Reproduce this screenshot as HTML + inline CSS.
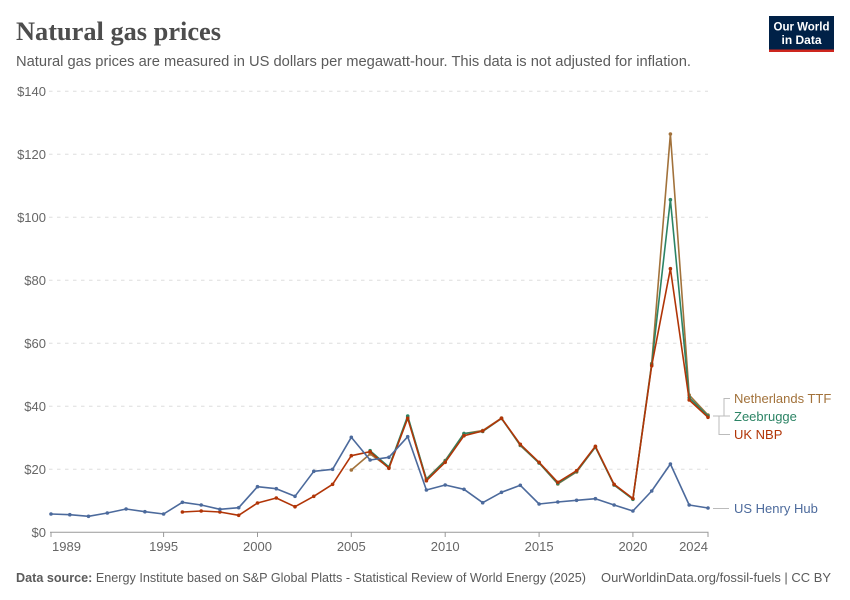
<!DOCTYPE html>
<html><head><meta charset="utf-8"><style>
html,body{margin:0;padding:0;background:#fff;}
svg{display:block;font-family:"Liberation Sans",sans-serif;}
</style></head><body>
<svg width="850" height="600" viewBox="0 0 850 600" xmlns="http://www.w3.org/2000/svg">
<rect width="850" height="600" fill="#fff"/>
<text x="16" y="40" font-family="Liberation Serif,serif" font-weight="bold" font-size="26" fill="#4d4d4d" textLength="205" lengthAdjust="spacingAndGlyphs">Natural gas prices</text>
<text x="16" y="66" font-size="14.5" fill="#5b5b5b" textLength="675" lengthAdjust="spacingAndGlyphs">Natural gas prices are measured in US dollars per megawatt-hour. This data is not adjusted for inflation.</text>
<rect x="769" y="16" width="65" height="36" fill="#002147"/>
<rect x="769" y="49.5" width="65" height="2.5" fill="#ce261e"/>
<text x="801.5" y="30.5" font-size="12" font-weight="bold" fill="#fff" text-anchor="middle" textLength="56" lengthAdjust="spacingAndGlyphs">Our World</text>
<text x="801.5" y="44" font-size="12" font-weight="bold" fill="#fff" text-anchor="middle">in Data</text>
<g stroke="#dddddd" stroke-width="1" stroke-dasharray="3.5,4.5">
<line x1="49" y1="91.3" x2="708" y2="91.3"/>
<line x1="49" y1="154.3" x2="708" y2="154.3"/>
<line x1="49" y1="217.3" x2="708" y2="217.3"/>
<line x1="49" y1="280.3" x2="708" y2="280.3"/>
<line x1="49" y1="343.3" x2="708" y2="343.3"/>
<line x1="49" y1="406.3" x2="708" y2="406.3"/>
<line x1="49" y1="469.3" x2="708" y2="469.3"/>
</g>
<g font-size="13" fill="#666" text-anchor="end">
<text x="46" y="96">$140</text>
<text x="46" y="159">$120</text>
<text x="46" y="222">$100</text>
<text x="46" y="285">$80</text>
<text x="46" y="348">$60</text>
<text x="46" y="411">$40</text>
<text x="46" y="474">$20</text>
<text x="46" y="537">$0</text>
</g>
<line x1="50" y1="532.3" x2="708.5" y2="532.3" stroke="#999" stroke-width="1"/>
<g stroke="#999" stroke-width="1">
<line x1="51" y1="532" x2="51" y2="537"/>
<line x1="163.6" y1="532" x2="163.6" y2="537"/>
<line x1="257.5" y1="532" x2="257.5" y2="537"/>
<line x1="351.3" y1="532" x2="351.3" y2="537"/>
<line x1="445.2" y1="532" x2="445.2" y2="537"/>
<line x1="539.1" y1="532" x2="539.1" y2="537"/>
<line x1="632.9" y1="532" x2="632.9" y2="537"/>
<line x1="708" y1="532" x2="708" y2="537"/>
</g>
<g font-size="13" fill="#666" text-anchor="middle">
<text x="52" y="551" text-anchor="start">1989</text>
<text x="163.6" y="551">1995</text>
<text x="257.5" y="551">2000</text>
<text x="351.3" y="551">2005</text>
<text x="445.2" y="551">2010</text>
<text x="539.1" y="551">2015</text>
<text x="632.9" y="551">2020</text>
<text x="708" y="551" text-anchor="end">2024</text>
</g>
<!-- Netherlands TTF -->
<g stroke="#a2723b" fill="#a2723b">
<polyline fill="none" stroke-width="1.6" stroke-linejoin="round" points="351.3,470 370.1,454 388.9,467.5 407.7,417 426.4,479 445.2,460.5 464,433.5 482.7,430.5 501.5,418 520.3,445.5 539.1,463 557.8,484 576.6,472 595.4,447 614.1,485 632.9,499 651.7,363.5 670.4,134 689.2,395 708,415"/>
<g stroke="none">
<circle cx="351.3" cy="470" r="1.8"/><circle cx="370.1" cy="454" r="1.8"/><circle cx="388.9" cy="467.5" r="1.8"/><circle cx="407.7" cy="417" r="1.8"/><circle cx="426.4" cy="479" r="1.8"/><circle cx="445.2" cy="460.5" r="1.8"/><circle cx="464" cy="433.5" r="1.8"/><circle cx="482.7" cy="430.5" r="1.8"/><circle cx="501.5" cy="418" r="1.8"/><circle cx="520.3" cy="445.5" r="1.8"/><circle cx="539.1" cy="463" r="1.8"/><circle cx="557.8" cy="484" r="1.8"/><circle cx="576.6" cy="472" r="1.8"/><circle cx="595.4" cy="447" r="1.8"/><circle cx="614.1" cy="485" r="1.8"/><circle cx="632.9" cy="499" r="1.8"/><circle cx="651.7" cy="363.5" r="1.8"/><circle cx="670.4" cy="134" r="1.8"/><circle cx="689.2" cy="395" r="1.8"/><circle cx="708" cy="415" r="1.8"/>
</g></g>
<!-- Zeebrugge -->
<g stroke="#2c8465" fill="#2c8465">
<polyline fill="none" stroke-width="1.6" stroke-linejoin="round" points="370.1,450.7 388.9,467 407.7,416 426.4,479.5 445.2,461 464,433.5 482.7,431.5 501.5,418.5 520.3,445 539.1,463 557.8,483.5 576.6,471.5 595.4,447 614.1,485 632.9,499.3 651.7,364.5 670.4,199.7 689.2,397.7 708,416"/>
<g stroke="none">
<circle cx="370.1" cy="450.7" r="1.8"/><circle cx="388.9" cy="467" r="1.8"/><circle cx="407.7" cy="416" r="1.8"/><circle cx="426.4" cy="479.5" r="1.8"/><circle cx="445.2" cy="461" r="1.8"/><circle cx="464" cy="433.5" r="1.8"/><circle cx="482.7" cy="431.5" r="1.8"/><circle cx="501.5" cy="418.5" r="1.8"/><circle cx="520.3" cy="445" r="1.8"/><circle cx="539.1" cy="463" r="1.8"/><circle cx="557.8" cy="483.5" r="1.8"/><circle cx="576.6" cy="471.5" r="1.8"/><circle cx="595.4" cy="447" r="1.8"/><circle cx="614.1" cy="485" r="1.8"/><circle cx="632.9" cy="499.3" r="1.8"/><circle cx="651.7" cy="364.5" r="1.8"/><circle cx="670.4" cy="199.7" r="1.8"/><circle cx="689.2" cy="397.7" r="1.8"/><circle cx="708" cy="416" r="1.8"/>
</g></g>
<!-- UK NBP -->
<g stroke="#b13507" fill="#b13507">
<polyline fill="none" stroke-width="1.6" stroke-linejoin="round" points="182.4,512 201.2,511 219.9,512 238.7,515.3 257.5,503 276.3,498 295,506.7 313.8,496.3 332.6,484.3 351.3,455.7 370.1,451.7 388.9,468.3 407.7,418.3 426.4,480.7 445.2,462.3 464,435.7 482.7,431 501.5,418.3 520.3,444.3 539.1,462.3 557.8,482.3 576.6,470.7 595.4,446.3 614.1,484.3 632.9,498.5 651.7,365.7 670.4,268.7 689.2,400 708,417.3"/>
<g stroke="none">
<circle cx="182.4" cy="512" r="1.8"/><circle cx="201.2" cy="511" r="1.8"/><circle cx="219.9" cy="512" r="1.8"/><circle cx="238.7" cy="515.3" r="1.8"/><circle cx="257.5" cy="503" r="1.8"/><circle cx="276.3" cy="498" r="1.8"/><circle cx="295" cy="506.7" r="1.8"/><circle cx="313.8" cy="496.3" r="1.8"/><circle cx="332.6" cy="484.3" r="1.8"/><circle cx="351.3" cy="455.7" r="1.8"/><circle cx="370.1" cy="451.7" r="1.8"/><circle cx="388.9" cy="468.3" r="1.8"/><circle cx="407.7" cy="418.3" r="1.8"/><circle cx="426.4" cy="480.7" r="1.8"/><circle cx="445.2" cy="462.3" r="1.8"/><circle cx="464" cy="435.7" r="1.8"/><circle cx="482.7" cy="431" r="1.8"/><circle cx="501.5" cy="418.3" r="1.8"/><circle cx="520.3" cy="444.3" r="1.8"/><circle cx="539.1" cy="462.3" r="1.8"/><circle cx="557.8" cy="482.3" r="1.8"/><circle cx="576.6" cy="470.7" r="1.8"/><circle cx="595.4" cy="446.3" r="1.8"/><circle cx="614.1" cy="484.3" r="1.8"/><circle cx="632.9" cy="498.5" r="1.8"/><circle cx="651.7" cy="365.7" r="1.8"/><circle cx="670.4" cy="268.7" r="1.8"/><circle cx="689.2" cy="400" r="1.8"/><circle cx="708" cy="417.3" r="1.8"/>
</g></g>
<!-- US Henry Hub -->
<g stroke="#4c6a9c" fill="#4c6a9c">
<polyline fill="none" stroke-width="1.6" stroke-linejoin="round" points="51,514 69.8,514.7 88.5,516.3 107.3,513 126.1,509 144.9,511.7 163.6,514 182.4,502.3 201.2,505 219.9,509.3 238.7,507.7 257.5,486.7 276.3,488.7 295,496.3 313.8,471.3 332.6,469.3 351.3,437.3 370.1,460 388.9,457.3 407.7,436.7 426.4,490 445.2,485 464,489.3 482.7,502.7 501.5,492.3 520.3,485.3 539.1,504 557.8,502 576.6,500.3 595.4,498.7 614.1,505 632.9,511 651.7,491 670.4,464 689.2,505 708,508"/>
<g stroke="none">
<circle cx="51" cy="514" r="1.8"/><circle cx="69.8" cy="514.7" r="1.8"/><circle cx="88.5" cy="516.3" r="1.8"/><circle cx="107.3" cy="513" r="1.8"/><circle cx="126.1" cy="509" r="1.8"/><circle cx="144.9" cy="511.7" r="1.8"/><circle cx="163.6" cy="514" r="1.8"/><circle cx="182.4" cy="502.3" r="1.8"/><circle cx="201.2" cy="505" r="1.8"/><circle cx="219.9" cy="509.3" r="1.8"/><circle cx="238.7" cy="507.7" r="1.8"/><circle cx="257.5" cy="486.7" r="1.8"/><circle cx="276.3" cy="488.7" r="1.8"/><circle cx="295" cy="496.3" r="1.8"/><circle cx="313.8" cy="471.3" r="1.8"/><circle cx="332.6" cy="469.3" r="1.8"/><circle cx="351.3" cy="437.3" r="1.8"/><circle cx="370.1" cy="460" r="1.8"/><circle cx="388.9" cy="457.3" r="1.8"/><circle cx="407.7" cy="436.7" r="1.8"/><circle cx="426.4" cy="490" r="1.8"/><circle cx="445.2" cy="485" r="1.8"/><circle cx="464" cy="489.3" r="1.8"/><circle cx="482.7" cy="502.7" r="1.8"/><circle cx="501.5" cy="492.3" r="1.8"/><circle cx="520.3" cy="485.3" r="1.8"/><circle cx="539.1" cy="504" r="1.8"/><circle cx="557.8" cy="502" r="1.8"/><circle cx="576.6" cy="500.3" r="1.8"/><circle cx="595.4" cy="498.7" r="1.8"/><circle cx="614.1" cy="505" r="1.8"/><circle cx="632.9" cy="511" r="1.8"/><circle cx="651.7" cy="491" r="1.8"/><circle cx="670.4" cy="464" r="1.8"/><circle cx="689.2" cy="505" r="1.8"/><circle cx="708" cy="508" r="1.8"/>
</g></g>
<!-- legend connectors -->
<g stroke="#bbb" stroke-width="1" fill="none">
<polyline points="713,416 724,416 724,398.5 730,398.5"/>
<line x1="713" y1="416" x2="730" y2="416"/>
<polyline points="719,416 719,434.5 730,434.5"/>
<line x1="713" y1="508.5" x2="729" y2="508.5"/>
</g>
<g font-size="13">
<text x="734" y="403" fill="#a2723b">Netherlands TTF</text>
<text x="734" y="421" fill="#2c8465">Zeebrugge</text>
<text x="734" y="439" fill="#b13507">UK NBP</text>
<text x="734" y="513" fill="#4c6a9c">US Henry Hub</text>
</g>
<text x="16" y="582" font-size="12.5" fill="#5b5b5b" textLength="570" lengthAdjust="spacingAndGlyphs"><tspan font-weight="bold">Data source:</tspan> Energy Institute based on S&amp;P Global Platts - Statistical Review of World Energy (2025)</text>
<text x="831" y="582" font-size="12.5" fill="#5b5b5b" text-anchor="end" textLength="230" lengthAdjust="spacingAndGlyphs">OurWorldinData.org/fossil-fuels | CC BY</text>
</svg>
</body></html>
